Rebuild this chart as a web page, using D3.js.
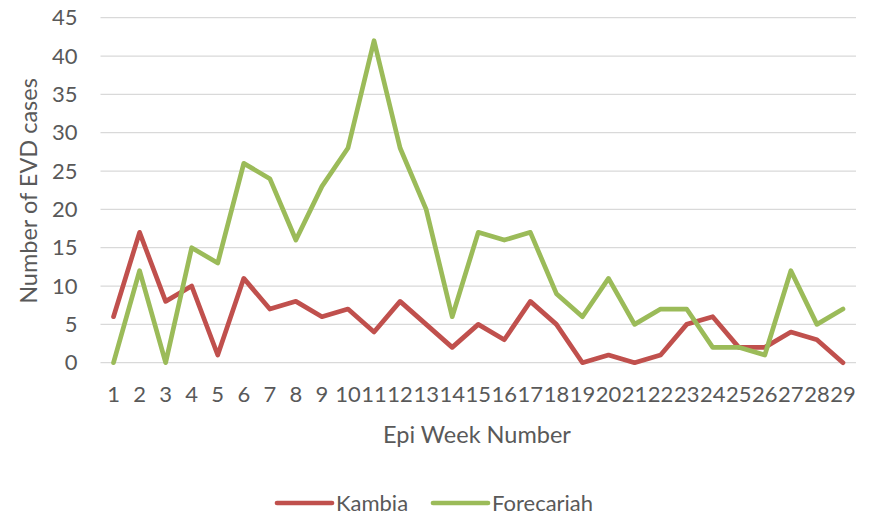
<!DOCTYPE html>
<html>
<head>
<meta charset="utf-8">
<script src="https://cdn.jsdelivr.net/npm/d3@7"></script>
<style>
  body { margin: 0; background: #fff; }
  text { font-family: Lato, "Open Sans", sans-serif; fill: #595959; }
</style>
</head>
<body>
<div id="chart"></div>
<script>
var svgWidth = 870;
var svgHeight = 514;

var weeks = d3.range(1, 30);
var kambia = [6, 17, 8, 10, 1, 11, 7, 8, 6, 7, 4, 8, 5, 2, 5, 3, 8, 5, 0, 1, 0, 1, 5, 6, 2, 2, 4, 3, 0];
var forecariah = [0, 12, 0, 15, 13, 26, 24, 16, 23, 28, 42, 28, 20, 6, 17, 16, 17, 9, 6, 11, 5, 7, 7, 2, 2, 1, 12, 5, 7];
var yTicks = [0, 5, 10, 15, 20, 25, 30, 35, 40, 45];

var series = [
  { name: "Kambia", values: kambia, color: "#C0504D" },
  { name: "Forecariah", values: forecariah, color: "#9BBB59" }
];

var margin = { top: 17.7, right: 14, bottom: 151.3, left: 100.5 };
var width = svgWidth - margin.left - margin.right;
var height = svgHeight - margin.top - margin.bottom;

var svg = d3.select("#chart")
  .append("svg")
  .attr("width", svgWidth)
  .attr("height", svgHeight);

var chartGroup = svg.append("g")
  .attr("transform", `translate(${margin.left}, ${margin.top})`);

var xScale = d3.scaleBand()
  .domain(weeks)
  .range([0, width]);

var yScale = d3.scaleLinear()
  .domain([0, 45])
  .range([height, 0]);

// gridlines
chartGroup.append("g")
  .selectAll("line")
  .data(yTicks)
  .enter()
  .append("line")
  .attr("x1", 0)
  .attr("x2", width)
  .attr("y1", d => yScale(d))
  .attr("y2", d => yScale(d))
  .attr("stroke", "#D9D9D9")
  .attr("stroke-width", 1.3);

var leftAxis = d3.axisLeft(yScale).tickValues(yTicks).tickSize(0).tickPadding(23);
var bottomAxis = d3.axisBottom(xScale).tickSize(0).tickPadding(39);

var yAxisG = chartGroup.append("g").call(leftAxis);
yAxisG.select(".domain").remove();
yAxisG.selectAll("text").style("font-size", "22px").style("font-family", null);

var xAxisG = chartGroup.append("g")
  .attr("transform", `translate(0, ${height})`)
  .call(bottomAxis);
xAxisG.select(".domain").remove();
xAxisG.selectAll("text").style("font-size", "22px").attr("dy", 0);

var line = d3.line()
  .x((d, i) => xScale(weeks[i]) + xScale.bandwidth() / 2)
  .y(d => yScale(d));

chartGroup.selectAll("path.series")
  .data(series)
  .enter()
  .append("path")
  .attr("class", "series")
  .attr("d", d => line(d.values))
  .attr("fill", "none")
  .attr("stroke", d => d.color)
  .attr("stroke-width", 4.7)
  .attr("stroke-linejoin", "round")
  .attr("stroke-linecap", "round");

// axis titles
chartGroup.append("text")
  .attr("transform", "rotate(-90)")
  .attr("x", -173.3)
  .attr("y", -63.5)
  .attr("text-anchor", "middle")
  .style("font-size", "23.5px")
  .text("Number of EVD cases");

svg.append("text")
  .attr("x", 477)
  .attr("y", 443)
  .attr("text-anchor", "middle")
  .style("font-size", "23.5px")
  .text("Epi Week Number");

// legend
var legendX = [277, 433];
var legend = svg.selectAll("g.legend")
  .data(series)
  .enter()
  .append("g")
  .attr("class", "legend")
  .attr("transform", (d, i) => `translate(${legendX[i]}, 503)`);

legend.append("line")
  .attr("x1", 0)
  .attr("x2", 55)
  .attr("stroke", d => d.color)
  .attr("stroke-width", 4.7)
  .attr("stroke-linecap", "round");

legend.append("text")
  .attr("x", 59)
  .attr("y", 7.5)
  .style("font-size", "22px")
  .text(d => d.name);
</script>
</body>
</html>
